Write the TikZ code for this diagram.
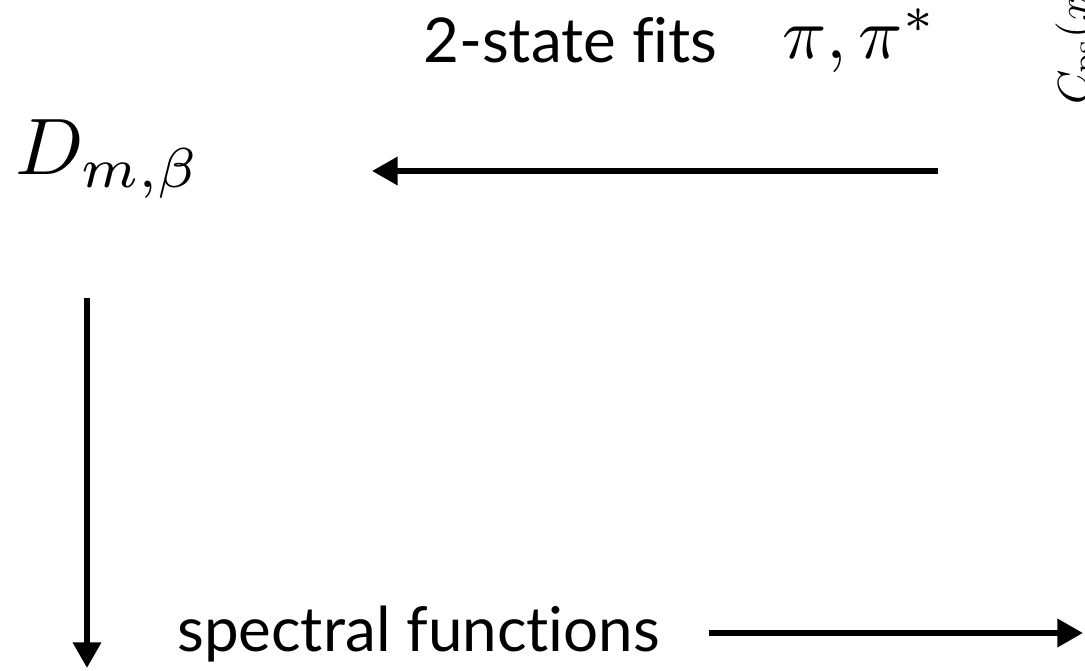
\documentclass[tikz,border=0pt]{standalone}
\usepackage{xcolor}
\usepackage{fontspec}
\newfontfamily\gillfont[Ligatures={NoCommon,NoRequired,NoContextual}]{Lato}
\usetikzlibrary{arrows.meta}

\tikzset{
  sanslabel/.style={font=\gillfont\fontsize{44}{44}\selectfont, inner sep=0pt, anchor=base west},
  mathlabel/.style={inner sep=0pt, anchor=base west},
  flow/.style={->, line width=4.3pt},
}

\begin{document}
\begin{tikzpicture}[>={Triangle[length=6.4mm, width=6.8mm]}]
  \useasboundingbox (0,0) rectangle (27.125,16.775);
  % labels
  \node[sanslabel] (fits) at (10.575,15.2) {2-state fits};
  \node[mathlabel] (pions) at (19.55,15.3) {\scalebox{5.2}{$\pi,\pi^*$}};
  \node[mathlabel] (dop) at (0.375,12.4) {\scalebox{5.7}{$D_{m,\beta}$}};
  \node[sanslabel] (spec) at (4.425,0.475) {spectral functions};
  \node[mathlabel, rotate=90] (corr) at (27.2,14.15) {\scalebox{3.1}{$C_{\mathrm{ps}}(x_0)$}};
  % arrow ends
  \coordinate (fitsR) at (23.45,12.5);
  \coordinate (fitsL) at (9.3,12.5);
  \coordinate (dopT) at (2.175,9.325);
  \coordinate (dopB) at (2.175,0.075);
  \coordinate (specL) at (17.725,0.95);
  \coordinate (specR) at (27.075,0.95);
  \draw[flow] (fitsR) -- (fitsL);
  \draw[flow] (dopT) -- (dopB);
  \draw[flow] (specL) -- (specR);
\end{tikzpicture}
\end{document}
